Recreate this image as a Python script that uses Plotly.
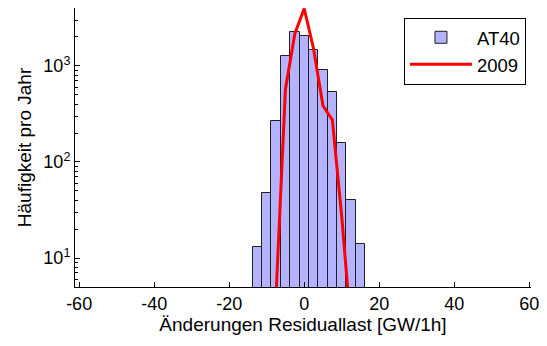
import plotly.graph_objects as go
import numpy as np

# Histogram bins (bin centres, GW/1h) and counts per year
bin_centers = [-12.5, -10, -7.5, -5, -2.5, 0, 2.5, 5, 7.5, 10, 12.5, 15]
at40_counts = [13, 48, 267, 1280, 2230, 2060, 1450, 910, 530, 157, 40, 14]

# 2009 line
line_x = [-7.5, -5, -2.5, 0, 2.5, 5, 7.5, 10, 12.5]
line_2009 = [4.2, 574, 2160, 3950, 1500, 384, 274, 27, 1.8]

ytick_vals = [10, 100, 1000]
ytick_text = ["10<sup>1</sup>", "10<sup>2</sup>", "10<sup>3</sup>"]
xtick_vals = [-60, -40, -20, 0, 20, 40, 60]
xtick_text = ["-60", "-40", "-20", "0", "20", "40", "60"]
minor_vals = [m * 10 ** k for k in range(0, 4) for m in range(2, 10)]

font_family = "Liberation Sans, Arial, sans-serif"

fig = go.Figure()
fig.add_trace(go.Bar(
    x=bin_centers, y=at40_counts, width=2.5, name="AT40",
    marker=dict(color="#b3b3ff", line=dict(color="#202020", width=1)),
))
fig.add_trace(go.Scatter(
    x=line_x, y=line_2009, mode="lines", name="2009",
    line=dict(color="#ff0000", width=3),
))

fig.update_layout(
    width=547, height=346,
    margin=dict(l=75, r=10, t=8, b=59),
    paper_bgcolor="white", plot_bgcolor="white",
    font=dict(family=font_family, size=18, color="black"),
    bargap=0,
    showlegend=True,
    legend=dict(
        x=0.989, y=0.965, xanchor="right", yanchor="top",
        bordercolor="black", borderwidth=1, bgcolor="white",
        font=dict(size=18.5), tracegroupgap=0, itemwidth=62,
    ),
)
fig.update_xaxes(
    range=[-61.1, 60.45],
    tickmode="array", tickvals=xtick_vals, ticktext=xtick_text,
    ticks="inside", ticklen=5, tickcolor="black",
    showline=True, linecolor="black", linewidth=1,
    showgrid=False, zeroline=False,
    title=dict(text="Änderungen Residuallast [GW/1h]", font=dict(size=19), standoff=4),
    tickfont=dict(size=18),
)
fig.update_yaxes(
    type="log", range=[np.log10(5), np.log10(4000)],
    tickmode="array", tickvals=ytick_vals, ticktext=ytick_text,
    ticks="inside", ticklen=5, tickcolor="black",
    minor=dict(tickmode="array", tickvals=minor_vals, ticks="inside", ticklen=3, tickcolor="black"),
    showline=True, linecolor="black", linewidth=1,
    showgrid=False, zeroline=False,
    title=dict(text="Häufigkeit pro Jahr", font=dict(size=19), standoff=6),
    tickfont=dict(size=18),
)

fig.write_html("out.html")
